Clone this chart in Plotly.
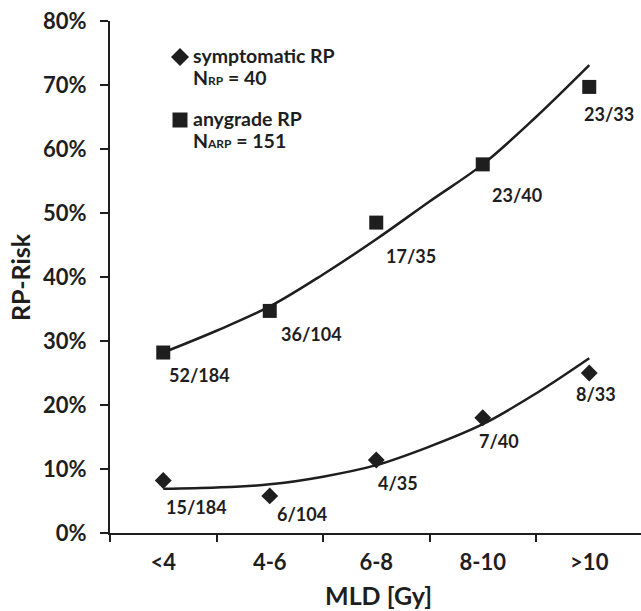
import plotly.graph_objects as go

# ---------------- data ----------------
categories = ["<4", "4-6", "6-8", "8-10", ">10"]
symptomatic_risk = [0.082, 0.058, 0.114, 0.180, 0.250]
symptomatic_labels = ["15/184", "6/104", "4/35", "7/40", "8/33"]
anygrade_risk = [0.282, 0.347, 0.485, 0.576, 0.697]
anygrade_labels = ["52/184", "36/104", "17/35", "23/40", "23/33"]

# fitted trend curves at category centres and midpoints
fit_positions = [0, 0.5, 1, 1.5, 2, 2.5, 3, 3.5, 4]
symptomatic_fit = [0.069, 0.071, 0.076, 0.088, 0.106, 0.135, 0.170, 0.218, 0.273]
anygrade_fit = [0.282, 0.316, 0.354, 0.404, 0.459, 0.518, 0.576, 0.650, 0.731]

y_tick_values = [0, 0.1, 0.2, 0.3, 0.4, 0.5, 0.6, 0.7, 0.8]

# ---------------- style ----------------
W, H = 641, 611
L, R, T, B = 110, 0, 21, 78
PW, PH = W - L - R, H - T - B
INK = "#1e1e1e"
FONT = "Lato, 'Open Sans', sans-serif"

# label offsets in pixels (dx right, dy down) from each point
sym_offsets = [(33, 26), (32, 18), (22, 23), (16, 23), (7, 21)]
any_offsets = [(36, 22), (42, 23), (35, 33), (34, 31), (20, 27)]

def px_x(px):
    return (px - L) / PW

def px_y(py):
    return (T + PH - py) / PH

xidx = list(range(len(categories)))

fig = go.Figure()

fig.add_trace(go.Scatter(x=fit_positions, y=anygrade_fit, mode="lines",
                         line=dict(color=INK, width=2.5, shape="spline", smoothing=1.0),
                         hoverinfo="skip", showlegend=False))
fig.add_trace(go.Scatter(x=fit_positions, y=symptomatic_fit, mode="lines",
                         line=dict(color=INK, width=2.5, shape="spline", smoothing=1.0),
                         hoverinfo="skip", showlegend=False))
fig.add_trace(go.Scatter(x=xidx, y=anygrade_risk, mode="markers",
                         marker=dict(symbol="square", size=14, color=INK),
                         name="anygrade RP", showlegend=False))
fig.add_trace(go.Scatter(x=xidx, y=symptomatic_risk, mode="markers",
                         marker=dict(symbol="diamond", size=13, color=INK),
                         name="symptomatic RP", showlegend=False))

annotations = []
for i, (v, lab) in enumerate(zip(symptomatic_risk, symptomatic_labels)):
    dx, dy = sym_offsets[i]
    annotations.append(dict(x=xidx[i], y=v, xref="x", yref="y", text="<b>%s</b>" % lab,
                            showarrow=False, xshift=dx, yshift=-dy,
                            font=dict(size=18, color=INK, family=FONT)))
for i, (v, lab) in enumerate(zip(anygrade_risk, anygrade_labels)):
    dx, dy = any_offsets[i]
    annotations.append(dict(x=xidx[i], y=v, xref="x", yref="y", text="<b>%s</b>" % lab,
                            showarrow=False, xshift=dx, yshift=-dy,
                            font=dict(size=18, color=INK, family=FONT)))

legend_lines = [
    ("<b>symptomatic RP</b>", 55),
    ("<b>N<span style='font-size:12px'>RP</span> = 40</b>", 77),
    ("<b>anygrade RP</b>", 118),
    ("<b>N<span style='font-size:12px'>ARP</span> = 151</b>", 140),
]
for txt, py in legend_lines:
    annotations.append(dict(x=px_x(191), y=px_y(py), xref="paper", yref="paper",
                            text=txt, showarrow=False, xanchor="left", yanchor="middle",
                            font=dict(size=19.5, color=INK, family=FONT)))

# axis titles
annotations.append(dict(x=px_x(378), y=px_y(595), xref="paper", yref="paper",
                        text="<b>MLD [Gy]</b>", showarrow=False, xanchor="center", yanchor="middle",
                        font=dict(size=25, color=INK, family=FONT)))
annotations.append(dict(x=px_x(20), y=px_y(277), xref="paper", yref="paper",
                        text="<b>RP-Risk</b>", showarrow=False, textangle=-90,
                        xanchor="center", yanchor="middle",
                        font=dict(size=25, color=INK, family=FONT)))

shapes = [
    dict(type="path", xref="paper", yref="paper", xsizemode="pixel", ysizemode="pixel",
         xanchor=px_x(180), yanchor=px_y(57),
         path="M -9,0 L 0,9 L 9,0 L 0,-9 Z", fillcolor=INK, line=dict(width=0)),
    dict(type="path", xref="paper", yref="paper", xsizemode="pixel", ysizemode="pixel",
         xanchor=px_x(180), yanchor=px_y(120),
         path="M -7.5,-7.5 L 7.5,-7.5 L 7.5,7.5 L -7.5,7.5 Z", fillcolor=INK, line=dict(width=0)),
]

fig.update_layout(
    width=W, height=H,
    margin=dict(l=L, r=R, t=T, b=B, pad=0),
    paper_bgcolor="white", plot_bgcolor="white",
    font=dict(family=FONT, color=INK),
    showlegend=False,
    annotations=annotations,
    shapes=shapes,
)

fig.update_xaxes(
    range=[-0.5, -0.5 + PW / 106.5], tickmode="array", tickvals=xidx,
    ticktext=["<b>%s</b>" % c for c in categories],
    ticks="", showline=True, linecolor=INK, linewidth=2,
    showgrid=False, zeroline=False,
    tickfont=dict(size=22, color=INK, family=FONT),
    ticklabelstandoff=9,
    minor=dict(tickmode="array", tickvals=[i - 0.5 for i in xidx] + [len(xidx) - 0.5],
               ticks="outside", ticklen=7, tickwidth=2, tickcolor=INK, showgrid=False),
)
fig.update_yaxes(
    range=[0, 0.8], tickmode="array", tickvals=y_tick_values,
    ticktext=["<b>%d%%</b>" % round(v * 100) for v in y_tick_values],
    ticks="outside", ticklen=8, tickwidth=2, tickcolor=INK,
    showline=True, linecolor=INK, linewidth=2,
    showgrid=False, zeroline=False,
    tickfont=dict(size=22, color=INK, family=FONT),
    ticklabelstandoff=9,
)

fig.write_html("out.html",
               config={"displayModeBar": False},
               post_script="document.body.style.margin='0';document.body.style.padding='0';")
